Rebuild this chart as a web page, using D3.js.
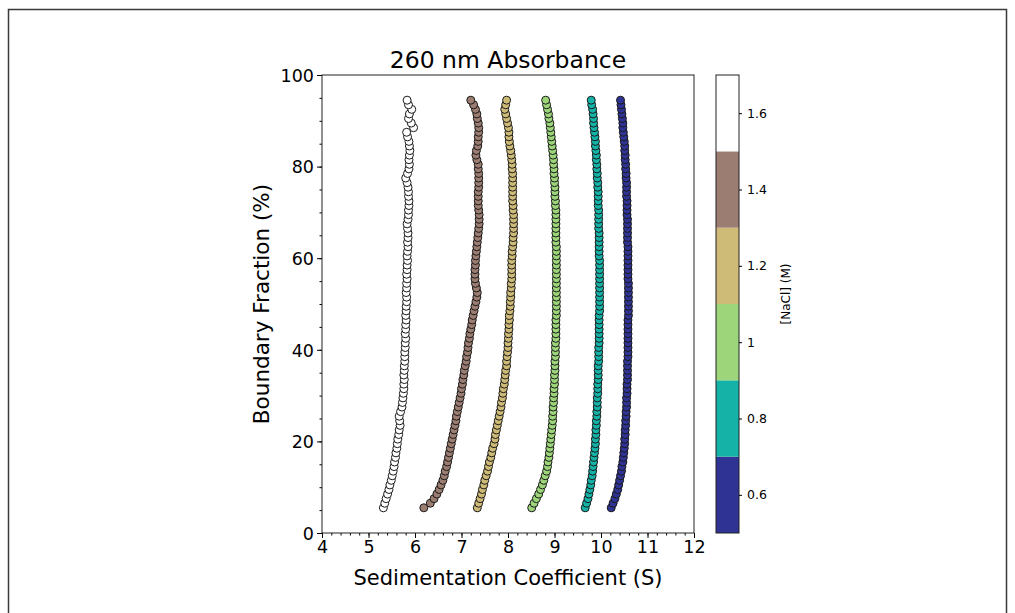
<html>
<head>
  <script src="https://d3js.org/d3.v7.min.js"></script>
  <style>
    body { margin: 0; background: #fff; }
    svg text { font-family: "DejaVu Sans", sans-serif; fill: #000; }
  </style>
</head>
<body>
  <svg id="chart" width="1015" height="613"></svg>
  <script>
    // boundary fraction (%) shared by every run
    const fractions = [
      5.5, 6.5, 7.5, 8.5, 9.5, 10.5, 11.5, 12.5, 13.5, 14.5,
      15.5, 16.5, 17.5, 18.5, 19.5, 20.5, 21.5, 22.5, 23.5, 24.5,
      25.5, 26.5, 27.5, 28.5, 29.5, 30.5, 31.5, 32.5, 33.5, 34.5,
      35.5, 36.5, 37.5, 38.5, 39.5, 40.5, 41.5, 42.5, 43.5, 44.5,
      45.5, 46.5, 47.5, 48.5, 49.5, 50.5, 51.5, 52.5, 53.5, 54.5,
      55.5, 56.5, 57.5, 58.5, 59.5, 60.5, 61.5, 62.5, 63.5, 64.5,
      65.5, 66.5, 67.5, 68.5, 69.5, 70.5, 71.5, 72.5, 73.5, 74.5,
      75.5, 76.5, 77.5, 78.5, 79.5, 80.5, 81.5, 82.5, 83.5, 84.5,
      85.5, 86.5, 87.5, 88.5, 89.5, 90.5, 91.5, 92.5, 93.5, 94.5
    ];

    // sedimentation coefficient (S) per NaCl concentration
    const s06 = [
      10.22, 10.26, 10.30, 10.33, 10.36, 10.38, 10.40, 10.42, 10.44, 10.45,
      10.47, 10.48, 10.49, 10.50, 10.51, 10.51, 10.52, 10.52, 10.53, 10.53,
      10.54, 10.54, 10.55, 10.55, 10.55, 10.56, 10.56, 10.56, 10.57, 10.57,
      10.57, 10.57, 10.57, 10.58, 10.58, 10.58, 10.58, 10.58, 10.58, 10.58,
      10.58, 10.58, 10.59, 10.59, 10.59, 10.59, 10.59, 10.59, 10.59, 10.59,
      10.58, 10.58, 10.58, 10.58, 10.58, 10.58, 10.58, 10.58, 10.57, 10.57,
      10.57, 10.57, 10.57, 10.57, 10.56, 10.56, 10.56, 10.56, 10.55, 10.55,
      10.55, 10.55, 10.54, 10.54, 10.53, 10.53, 10.52, 10.52, 10.51, 10.51,
      10.50, 10.49, 10.48, 10.47, 10.47, 10.46, 10.45, 10.44, 10.43, 10.42
    ];
    const s08 = [
      9.66, 9.69, 9.72, 9.74, 9.76, 9.78, 9.79, 9.81, 9.82, 9.83,
      9.84, 9.85, 9.86, 9.87, 9.88, 9.88, 9.89, 9.89, 9.90, 9.90,
      9.91, 9.91, 9.92, 9.92, 9.92, 9.93, 9.93, 9.93, 9.94, 9.94,
      9.94, 9.94, 9.95, 9.95, 9.95, 9.95, 9.96, 9.96, 9.96, 9.96,
      9.96, 9.96, 9.96, 9.97, 9.97, 9.97, 9.97, 9.97, 9.97, 9.97,
      9.97, 9.97, 9.97, 9.97, 9.97, 9.96, 9.96, 9.96, 9.96, 9.96,
      9.96, 9.95, 9.95, 9.95, 9.95, 9.95, 9.94, 9.94, 9.94, 9.94,
      9.93, 9.93, 9.92, 9.92, 9.91, 9.91, 9.90, 9.90, 9.89, 9.88,
      9.88, 9.87, 9.86, 9.85, 9.84, 9.84, 9.83, 9.82, 9.80, 9.79
    ];
    const s10 = [
      8.51, 8.56, 8.61, 8.66, 8.70, 8.74, 8.77, 8.80, 8.83, 8.85,
      8.86, 8.88, 8.89, 8.90, 8.91, 8.92, 8.93, 8.94, 8.95, 8.96,
      8.96, 8.97, 8.97, 8.98, 8.98, 8.99, 8.99, 9.00, 9.00, 9.00,
      9.01, 9.01, 9.01, 9.02, 9.02, 9.02, 9.02, 9.03, 9.03, 9.03,
      9.03, 9.03, 9.04, 9.04, 9.04, 9.04, 9.04, 9.04, 9.04, 9.04,
      9.04, 9.04, 9.04, 9.04, 9.04, 9.04, 9.04, 9.04, 9.03, 9.03,
      9.03, 9.03, 9.03, 9.03, 9.03, 9.03, 9.02, 9.02, 9.01, 9.01,
      9.01, 9.00, 9.00, 8.99, 8.99, 8.98, 8.98, 8.97, 8.96, 8.95,
      8.94, 8.93, 8.92, 8.91, 8.90, 8.88, 8.87, 8.85, 8.83, 8.81
    ];
    const s12 = [
      7.34, 7.37, 7.40, 7.43, 7.45, 7.48, 7.50, 7.53, 7.56, 7.58,
      7.60, 7.63, 7.65, 7.67, 7.70, 7.72, 7.73, 7.75, 7.77, 7.79,
      7.81, 7.83, 7.85, 7.86, 7.88, 7.89, 7.90, 7.92, 7.93, 7.94,
      7.95, 7.97, 7.97, 7.98, 7.99, 8.00, 8.00, 8.01, 8.01, 8.02,
      8.02, 8.03, 8.03, 8.04, 8.05, 8.05, 8.06, 8.06, 8.07, 8.07,
      8.08, 8.08, 8.08, 8.08, 8.08, 8.09, 8.09, 8.10, 8.11, 8.11,
      8.12, 8.12, 8.12, 8.12, 8.12, 8.11, 8.11, 8.10, 8.10, 8.10,
      8.10, 8.10, 8.10, 8.10, 8.09, 8.09, 8.08, 8.07, 8.06, 8.04,
      8.03, 8.02, 8.02, 8.01, 7.99, 7.97, 7.95, 7.93, 7.95, 7.97
    ];
    const s14 = [
      6.19, 6.33, 6.41, 6.47, 6.52, 6.56, 6.60, 6.63, 6.65, 6.68,
      6.70, 6.72, 6.74, 6.76, 6.78, 6.80, 6.82, 6.84, 6.86, 6.88,
      6.89, 6.91, 6.93, 6.95, 6.97, 6.99, 7.00, 7.02, 7.03, 7.05,
      7.06, 7.08, 7.10, 7.11, 7.13, 7.14, 7.15, 7.17, 7.18, 7.20,
      7.22, 7.23, 7.25, 7.27, 7.29, 7.31, 7.33, 7.34, 7.32, 7.30,
      7.29, 7.29, 7.29, 7.30, 7.30, 7.31, 7.32, 7.33, 7.34, 7.35,
      7.36, 7.37, 7.38, 7.38, 7.38, 7.37, 7.36, 7.36, 7.36, 7.36,
      7.37, 7.37, 7.37, 7.37, 7.36, 7.36, 7.33, 7.31, 7.32, 7.35,
      7.36, 7.36, 7.37, 7.37, 7.36, 7.34, 7.33, 7.30, 7.26, 7.20
    ];
    const s16 = [
      5.32, 5.35, 5.38, 5.41, 5.44, 5.46, 5.49, 5.51, 5.53, 5.55,
      5.56, 5.58, 5.59, 5.61, 5.62, 5.63, 5.65, 5.66, 5.68, 5.67,
      5.66, 5.69, 5.72, 5.73, 5.74, 5.75, 5.76, 5.76, 5.77, 5.76,
      5.77, 5.77, 5.78, 5.78, 5.78, 5.79, 5.79, 5.80, 5.79, 5.80,
      5.80, 5.81, 5.80, 5.81, 5.81, 5.82, 5.82, 5.81, 5.82, 5.82,
      5.83, 5.82, 5.83, 5.83, 5.84, 5.83, 5.84, 5.85, 5.84, 5.85,
      5.85, 5.84, 5.83, 5.85, 5.86, 5.86, 5.87, 5.87, 5.86, 5.86,
      5.85, 5.83, 5.80, 5.84, 5.87, 5.88, 5.87, 5.88, 5.89, 5.88,
      5.87, 5.84, 5.82, 5.97, 5.92, 5.86, 5.88, 5.93, 5.86, 5.83
    ];

    const nacl = [0.6, 0.8, 1.0, 1.2, 1.4, 1.6];
    const runs = [s06, s08, s10, s12, s14, s16];
    const binEdges = [0.5, 0.7, 0.9, 1.1, 1.3, 1.5, 1.7];
    const binColors = ["#2f3393", "#15b2a7", "#9dd57b", "#cfbb78", "#9c7d72", "#ffffff"];
    const xTicks = [4, 5, 6, 7, 8, 9, 10, 11, 12];
    const yTicks = [0, 20, 40, 60, 80, 100];
    const cbTicks = [0.6, 0.8, 1, 1.2, 1.4, 1.6];

    const svg = d3.select("#chart");

    // outer frame of the figure
    svg.append("rect")
      .attr("x", 8.5).attr("y", 9.5)
      .attr("width", 998).attr("height", 700)
      .attr("fill", "none")
      .attr("stroke", "#3a3a3a")
      .attr("stroke-width", 1.5);

    const plot = { left: 322, right: 694, top: 75, bottom: 533 };

    const x = d3.scaleLinear().domain([4, 12]).range([plot.left, plot.right]);
    const y = d3.scaleLinear().domain([0, 100]).range([plot.bottom, plot.top]);
    const color = d3.scaleThreshold().domain(binEdges.slice(1, -1)).range(binColors);

    // minor ticks
    svg.append("g")
      .attr("transform", `translate(0,${plot.bottom})`)
      .call(d3.axisBottom(x).tickValues(d3.range(4, 12.01, 0.2)).tickSize(2.5).tickFormat("").tickSizeOuter(0))
      .call(g => g.select(".domain").remove());
    svg.append("g")
      .attr("transform", `translate(${plot.left},0)`)
      .call(d3.axisLeft(y).tickValues(d3.range(0, 100.1, 5)).tickSize(2.5).tickFormat("").tickSizeOuter(0))
      .call(g => g.select(".domain").remove());

    // major ticks
    const xAxis = svg.append("g")
      .attr("transform", `translate(0,${plot.bottom})`)
      .call(d3.axisBottom(x).tickValues(xTicks).tickSize(5).tickPadding(3).tickSizeOuter(0));
    const yAxis = svg.append("g")
      .attr("transform", `translate(${plot.left},0)`)
      .call(d3.axisLeft(y).tickValues(yTicks).tickSize(5).tickPadding(3).tickSizeOuter(0));
    [xAxis, yAxis].forEach(g => {
      g.select(".domain").remove();
      g.selectAll("text").attr("font-size", 17.5).attr("font-family", "DejaVu Sans");
    });
    yAxis.selectAll("text").attr("dy", "0.36em");

    // data points
    runs.forEach((run, k) => {
      svg.append("g")
        .selectAll("circle")
        .data(run.map((s, i) => ({ s: s, f: fractions[i] })))
        .join("circle")
        .attr("cx", d => x(d.s))
        .attr("cy", d => y(d.f))
        .attr("r", 4)
        .attr("fill", color(nacl[k]))
        .attr("stroke", "#1a1a1a")
        .attr("stroke-width", 1);
    });

    // spines
    svg.append("rect")
      .attr("x", plot.left).attr("y", plot.top)
      .attr("width", plot.right - plot.left).attr("height", plot.bottom - plot.top)
      .attr("fill", "none").attr("stroke", "#222").attr("stroke-width", 1);

    svg.append("text")
      .attr("x", (plot.left + plot.right) / 2).attr("y", 68)
      .attr("text-anchor", "middle").attr("font-size", 23.5)
      .text("260 nm Absorbance");

    svg.append("text")
      .attr("x", (plot.left + plot.right) / 2).attr("y", 585)
      .attr("text-anchor", "middle").attr("font-size", 21)
      .text("Sedimentation Coefficient (S)");

    svg.append("text")
      .attr("transform", `translate(269,${(plot.top + plot.bottom) / 2}) rotate(-90)`)
      .attr("text-anchor", "middle").attr("font-size", 21.5)
      .text("Boundary Fraction (%)");

    // colorbar
    const cb = { left: 716, right: 739 };
    const c = d3.scaleLinear().domain([0.5, 1.7]).range([plot.bottom, plot.top]);

    svg.append("g")
      .selectAll("rect")
      .data(binColors)
      .join("rect")
      .attr("x", cb.left)
      .attr("width", cb.right - cb.left)
      .attr("y", (d, i) => c(binEdges[i + 1]))
      .attr("height", (d, i) => c(binEdges[i]) - c(binEdges[i + 1]))
      .attr("fill", d => d);

    svg.append("rect")
      .attr("x", cb.left).attr("y", plot.top)
      .attr("width", cb.right - cb.left).attr("height", plot.bottom - plot.top)
      .attr("fill", "none").attr("stroke", "#222").attr("stroke-width", 1);

    const cAxis = svg.append("g")
      .attr("transform", `translate(${cb.right},0)`)
      .call(d3.axisRight(c).tickValues(cbTicks).tickSize(3).tickPadding(5).tickSizeOuter(0)
        .tickFormat(d => d3.format("~g")(d)));
    cAxis.select(".domain").remove();
    cAxis.selectAll("text").attr("font-size", 12.5).attr("font-family", "DejaVu Sans");

    svg.append("text")
      .attr("transform", `translate(790,294) rotate(-90)`)
      .attr("text-anchor", "middle").attr("font-size", 12)
      .text("[NaCl] (M)");
  </script>
</body>
</html>
